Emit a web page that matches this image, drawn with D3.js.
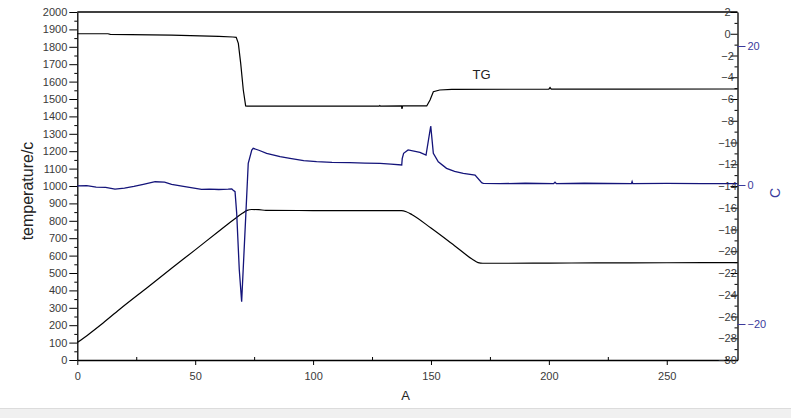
<!DOCTYPE html>
<html><head><meta charset="utf-8">
<script src="https://cdn.jsdelivr.net/npm/d3@7"></script>
<style>
body{margin:0;background:#fff;}
svg{display:block;font-family:"Liberation Sans",Arial,sans-serif;}
</style></head>
<body><svg id="c" width="791" height="418"></svg>
<script>
// ---- data ----
const tempT = [0, 5, 10, 18, 30, 40, 50, 60, 66, 70, 72, 74, 77, 80, 100, 120, 137.5, 139.5, 142, 150, 160, 168, 170, 172, 180, 200, 220, 250, 280];
const tempV = [100, 150, 203, 292, 420, 527, 633, 740, 803, 843, 860, 865, 864, 860, 859, 858, 858, 852, 835, 758, 657, 575, 560, 556, 556, 557, 558, 559, 560];

const tgT = [0, 13, 14, 40, 60, 66, 67.4, 68.3, 69.3, 70.4, 71.4, 72, 100, 128, 128.3, 128.6, 137.5, 137.7, 138, 148.2, 149.6, 151, 153.7, 158.8, 200, 200.5, 201, 235, 280];
const tgV = [0, 0, -0.05, -0.12, -0.25, -0.3, -0.33, -0.88, -2.72, -5.17, -6.64, -6.66, -6.66, -6.66, -6.6, -6.66, -6.64, -6.9, -6.64, -6.64, -6.09, -5.33, -5.17, -5.11, -5.1, -4.95, -5.1, -5.1, -5.08];

const dscT = [0, 4, 8, 12, 16, 20, 24, 28, 33, 37, 40, 45, 52.7, 56, 60, 64, 65.5, 66, 66.9, 67.6, 68.7, 69.7, 71.5, 72.5, 74, 74.6, 77, 80.3, 86, 90.2, 96, 101.5, 108, 115.6, 122, 128.4, 133, 137.6, 137.8, 138.4, 140.3, 145.3, 147.9, 149.9, 151, 153.1, 156.6, 160, 163.7, 168.7, 171.5, 172.2, 179.3, 190, 202, 202.6, 203.2, 215, 235, 235.3, 235.6, 250, 265, 280];
const dscV = [-0.14, -0.1, -0.3, -0.35, -0.58, -0.45, -0.2, 0.1, 0.47, 0.4, 0.1, -0.2, -0.62, -0.6, -0.65, -0.6, -0.55, -0.72, -0.96, -4.07, -12.2, -16.8, -4.07, 3.12, 5.04, 5.28, 5.0, 4.56, 4.07, 3.84, 3.5, 3.35, 3.25, 3.21, 3.15, 3.12, 3.0, 2.88, 3.8, 4.56, 5.04, 4.7, 4.3, 8.49, 4.56, 3.35, 2.4, 1.95, 1.68, 1.44, 0.33, 0.24, 0.19, 0.25, 0.19, 0.4, 0.19, 0.25, 0.19, 0.5, 0.19, 0.22, 0.2, 0.2];

const xTicks = [0, 50, 100, 150, 200, 250];
const xMinor = [25, 75, 125, 175, 225, 275];
const leftTicks = d3.range(0, 2001, 100);
const leftMinor = d3.range(50, 2000, 100);
const rightTicks = d3.range(2, -31, -2);
const rightMinor = d3.range(1, -30, -2);
const blueTicks = [20, 0, -20];

// ---- scales ----
const svg = d3.select("#c");
const X0 = 77.3, X1 = 737.5, YT = 12, YB = 360;
const x = d3.scaleLinear().domain([0, 280]).range([X0, X1]);
const yL = d3.scaleLinear().domain([0, 2000]).range([YB, YT]);
const yR = d3.scaleLinear().domain([-30, 2]).range([YB, YT]);
const yB = d3.scaleLinear().domain([-20, 20]).range([324, 46]);

// bottom grey band
svg.append("rect").attr("x",0).attr("y",409).attr("width",791).attr("height",9).attr("fill","#f0f0f0");
svg.append("line").attr("x1",0).attr("x2",791).attr("y1",408.5).attr("y2",408.5).attr("stroke","#dcdcdc");

const txtCol = "#3a3a3a";
function styleAxis(g){
  g.selectAll("path.domain").attr("stroke","#000").attr("stroke-width",1.3);
  g.selectAll(".tick line").attr("stroke","#000").attr("stroke-width",1);
  g.selectAll("text").attr("font-size",11).attr("fill",txtCol).attr("font-family",'"Liberation Sans",Arial,sans-serif');
}

// top frame
svg.append("line").attr("x1",X0).attr("x2",X1).attr("y1",YT).attr("y2",YT).attr("stroke","#000").attr("stroke-width",1.3);

// bottom axis
const gx = svg.append("g").attr("transform",`translate(0,${YB})`)
  .call(d3.axisBottom(x).tickValues(xTicks).tickSize(5).tickSizeOuter(0).tickPadding(7).tickFormat(d3.format("d")));
styleAxis(gx);
svg.append("g").attr("transform",`translate(0,${YB})`)
  .call(d3.axisTop(x).tickValues(xMinor).tickSize(3).tickFormat(""))
  .call(g=>{g.select(".domain").remove(); g.selectAll("line").attr("stroke","#000");});

// left axis
const gl = svg.append("g").attr("transform",`translate(${X0},0)`)
  .call(d3.axisLeft(yL).tickValues(leftTicks).tickSize(8).tickSizeOuter(0).tickPadding(2).tickFormat(d3.format("d")));
styleAxis(gl);
svg.append("g").attr("transform",`translate(${X0},0)`)
  .call(d3.axisLeft(yL).tickValues(leftMinor).tickSize(3).tickFormat(""))
  .call(g=>{g.select(".domain").remove(); g.selectAll("line").attr("stroke","#000");});

// right (black) axis, ticks and labels inside
const gr = svg.append("g").attr("transform",`translate(${X1},0)`)
  .call(d3.axisLeft(yR).tickValues(rightTicks).tickSize(7).tickSizeOuter(0).tickPadding(3).tickFormat(d3.format("d")));
styleAxis(gr);
gr.selectAll("text").attr("text-anchor","middle").attr("x",-10);
svg.append("g").attr("transform",`translate(${X1},0)`)
  .call(d3.axisLeft(yR).tickValues(rightMinor).tickSize(3).tickFormat(""))
  .call(g=>{g.select(".domain").remove(); g.selectAll("line").attr("stroke","#000");});

// blue axis
const blue = "#3a3a9c";
const gb = svg.append("g").attr("transform",`translate(${X1},0)`)
  .call(d3.axisRight(yB).tickValues(blueTicks).tickSize(8).tickPadding(2).tickFormat(d3.format("d")));
gb.select(".domain").remove();
gb.selectAll(".tick line").attr("stroke",blue);
gb.selectAll("text").attr("font-size",11).attr("fill",blue);

// axis titles
svg.append("text").attr("transform","translate(33,191) rotate(-90)").attr("text-anchor","middle")
  .attr("font-size",16).attr("fill","#222").text("temperature/c");
svg.append("text").attr("x",405.5).attr("y",400).attr("text-anchor","middle")
  .attr("font-size",13).attr("fill","#222").text("A");
svg.append("text").attr("transform","translate(780,193) rotate(-90)").attr("text-anchor","middle")
  .attr("font-size",14).attr("fill",blue).text("C");
svg.append("text").attr("x",481.5).attr("y",79).attr("text-anchor","middle")
  .attr("font-size",13).attr("fill","#222").text("TG");

// lines
const mk = (T,V,ys,c)=>d3.line().curve(c||d3.curveLinear).x((d,i)=>x(T[i])).y((d,i)=>ys(V[i]))(V);
svg.append("path").attr("d",mk(tempT,tempV,yL,d3.curveMonotoneX)).attr("fill","none").attr("stroke","#000").attr("stroke-width",1.2);
svg.append("path").attr("d",mk(tgT,tgV,yR)).attr("fill","none").attr("stroke","#000").attr("stroke-width",1.2);
svg.append("path").attr("d",mk(dscT,dscV,yB)).attr("fill","none").attr("stroke","#14147a").attr("stroke-width",1.3);
</script></body></html>
